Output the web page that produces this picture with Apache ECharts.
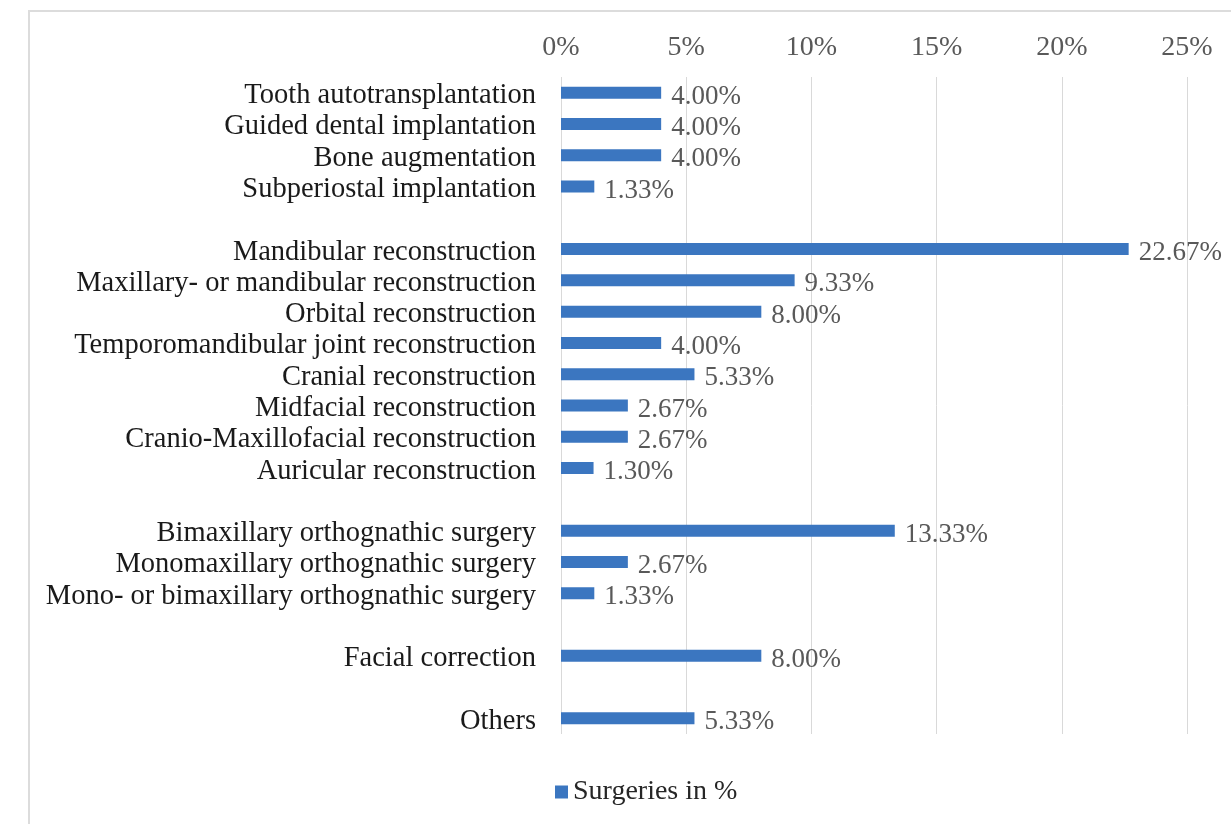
<!DOCTYPE html>
<html>
<head>
<meta charset="utf-8">
<script src="https://cdn.jsdelivr.net/npm/echarts@6/dist/echarts.min.js"></script>
<style>
html,body{margin:0;padding:0;background:#fff;}
#chart{width:1231px;height:824px;}
</style>
</head>
<body>
<div id="chart"></div>
<script>
const categories = [
  'Tooth autotransplantation',
  'Guided dental implantation',
  'Bone augmentation',
  'Subperiostal implantation',
  ' ',
  'Mandibular reconstruction',
  'Maxillary- or mandibular reconstruction',
  'Orbital reconstruction',
  'Temporomandibular joint reconstruction',
  'Cranial reconstruction',
  'Midfacial reconstruction',
  'Cranio-Maxillofacial reconstruction',
  'Auricular reconstruction',
  '  ',
  'Bimaxillary orthognathic surgery',
  'Monomaxillary orthognathic surgery',
  'Mono- or bimaxillary orthognathic surgery',
  '   ',
  'Facial correction',
  '    ',
  'Others'
];
const surgeries = [4.00, 4.00, 4.00, 1.33, null, 22.67, 9.33, 8.00, 4.00, 5.33, 2.67, 2.67, 1.30, null, 13.33, 2.67, 1.33, null, 8.00, null, 5.33];
const seriesName = 'Surgeries in %';
const xTicks = { min: 0, max: 25, interval: 5 };

const FONT = '"Liberation Serif", "Times New Roman", serif';
const chart = echarts.init(document.getElementById('chart'), null, { renderer: 'canvas' });
chart.setOption({
  backgroundColor: '#ffffff',
  animation: false,
  graphic: [{
    type: 'rect',
    shape: { x: 29, y: 11, width: 1400, height: 1000 },
    style: { fill: 'none', stroke: '#dcdcdc', lineWidth: 2 },
    silent: true
  }],
  grid: { left: 561, right: 44, top: 77, bottom: 90, containLabel: false },
  legend: {
    data: [seriesName],
    left: 550, top: 773,
    icon: 'rect', itemWidth: 13, itemHeight: 13, itemGap: 8,
    textStyle: { fontFamily: FONT, fontSize: 28, color: '#262626' }
  },
  xAxis: {
    type: 'value', position: 'top',
    min: xTicks.min, max: xTicks.max, interval: xTicks.interval,
    axisLine: { show: false }, axisTick: { show: false },
    axisLabel: { formatter: '{value}%', fontFamily: FONT, fontSize: 28, color: '#595959', margin: 15 },
    splitLine: { show: true, lineStyle: { color: '#d9d9d9', width: 1 } }
  },
  yAxis: {
    type: 'category', data: categories, inverse: true,
    axisLine: { show: false }, axisTick: { show: false },
    axisLabel: {
      interval: 0, margin: 25,
      formatter: v => '{a|' + v + '}',
      rich: { a: { fontFamily: FONT, fontSize: 28.5, color: '#1a1a1a', padding: [6, 0, 0, 0] } }
    }
  },
  series: [{
    name: seriesName, type: 'bar', data: surgeries,
    barWidth: 12,
    itemStyle: { color: '#3b76c0' },
    label: {
      show: true, position: 'right', distance: 10, offset: [0, 4],
      fontFamily: FONT, fontSize: 27, color: '#595959',
      formatter: p => p.value == null ? '' : p.value.toFixed(2) + '%'
    }
  }]
});
</script>
</body>
</html>
